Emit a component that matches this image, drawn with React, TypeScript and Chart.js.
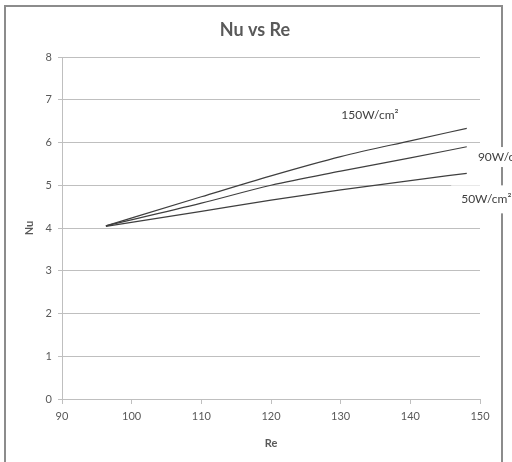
import React, { useEffect, useRef } from "react";
import { Chart, registerables } from "chart.js";

Chart.register(...registerables);

const titleText = "Nu vs Re";
const xTitle = "Re";
const yTitle = "Nu";

const reValues = [96.3, 110, 120, 130, 140, 148.1];
const nu150 = [4.05, 4.73, 5.22, 5.67, 6.04, 6.33];
const nu90 = [4.05, 4.58, 5.0, 5.33, 5.64, 5.9];
const nu50 = [4.04, 4.39, 4.65, 4.89, 5.11, 5.28];

const seriesNames = ["150W/cm²", "90W/cm²", "50W/cm²"];
// annotation anchors in data units (Re, Nu)
const labelRe = [134.2, 149.7, 147.3];
const labelNu = [6.64, 5.66, 4.67];
const labelAlign: CanvasTextAlign[] = ["center", "left", "left"];
const labelBoxPad = [0, 2, 10];

const xMin = 90;
const xMax = 150;
const xStep = 10;
const yMin = 0;
const yMax = 8;
const yStep = 1;

const FONT = "Lato, 'Open Sans', sans-serif";
const TEXT = "#595959";
const LINE = "#3f3f3f";

const decorPlugin = {
  id: "decor",
  beforeDraw(chart: any) {
    const ctx = chart.ctx;
    ctx.save();
    ctx.fillStyle = "#ffffff";
    ctx.fillRect(0, 0, chart.width, chart.height);
    ctx.strokeStyle = "#8c8c8c";
    ctx.lineWidth = 2;
    ctx.strokeRect(5, 6, 497, 480);
    ctx.fillStyle = TEXT;
    ctx.font = `bold 18px ${FONT}`;
    ctx.textAlign = "center";
    ctx.textBaseline = "middle";
    ctx.fillText(titleText, 255, 30);
    ctx.restore();
  },
  afterDatasetsDraw(chart: any) {
    const ctx = chart.ctx;
    const xs = chart.scales.x;
    const ys = chart.scales.y;
    ctx.save();
    ctx.font = `12px ${FONT}`;
    ctx.textBaseline = "middle";
    seriesNames.forEach((name, i) => {
      const px = xs.getPixelForValue(labelRe[i]);
      const py = ys.getPixelForValue(labelNu[i]);
      ctx.textAlign = labelAlign[i];
      const pad = labelBoxPad[i];
      if (pad > 0) {
        const w = ctx.measureText(name).width;
        ctx.fillStyle = "#ffffff";
        ctx.fillRect(px - pad, py - 6 - pad / 2 - 3, w + 2 * pad, 12 + pad + 6);
      }
      ctx.fillStyle = "#404040";
      ctx.fillText(name, px, py);
    });
    ctx.restore();
  },
};

export default function App() {
  const ref = useRef<HTMLCanvasElement>(null);
  useEffect(() => {
    if (!ref.current) return;
    const mk = (data: number[]) => ({
      data: reValues.map((r, i) => ({ x: r, y: data[i] })),
      borderColor: LINE,
      borderWidth: 1.2,
      pointRadius: 0,
      fill: false,
      tension: 0.4,
      cubicInterpolationMode: "monotone" as const,
    });
    const chart = new Chart(ref.current, {
      type: "line",
      data: {
        datasets: [
          { label: seriesNames[0], ...mk(nu150) },
          { label: seriesNames[1], ...mk(nu90) },
          { label: seriesNames[2], ...mk(nu50) },
        ],
      },
      options: {
        animation: false,
        responsive: false,
        devicePixelRatio: 1,
        layout: { padding: { left: 0, top: 57, right: 32, bottom: 0 } },
        plugins: {
          legend: { display: false },
          title: { display: false },
          tooltip: { enabled: false },
        },
        scales: {
          x: {
            type: "linear",
            min: xMin,
            max: xMax,
            afterFit: (s: any) => {
              s.height = 63;
            },
            ticks: {
              stepSize: xStep,
              color: TEXT,
              font: { family: FONT, size: 11 },
              padding: 6,
              maxRotation: 0,
            },
            grid: {
              drawOnChartArea: false,
              drawTicks: true,
              tickLength: 5,
              color: "#bfbfbf",
            },
            border: { display: true, color: "#bfbfbf" },
            title: {
              display: true,
              text: xTitle,
              color: TEXT,
              font: { family: FONT, size: 11, weight: "bold" },
              padding: { top: 0, bottom: 12 },
            },
          },
          y: {
            type: "linear",
            min: yMin,
            max: yMax,
            afterFit: (s: any) => {
              s.width = 62;
            },
            ticks: {
              stepSize: yStep,
              color: TEXT,
              font: { family: FONT, size: 11 },
              padding: 6,
            },
            grid: {
              drawTicks: true,
              tickLength: 4,
              color: "#bfbfbf",
            },
            border: { display: true, color: "#bfbfbf" },
            title: {
              display: true,
              text: yTitle,
              color: TEXT,
              font: { family: FONT, size: 11, weight: "bold" },
              padding: { top: 23, bottom: 0 },
            },
          },
        },
      },
      plugins: [decorPlugin],
    });
    return () => chart.destroy();
  }, []);
  return (
    <div style={{ position: "absolute", left: 0, top: 0, width: 512, height: 462 }}>
      <canvas ref={ref} width={512} height={462} style={{ display: "block" }} />
    </div>
  );
}
